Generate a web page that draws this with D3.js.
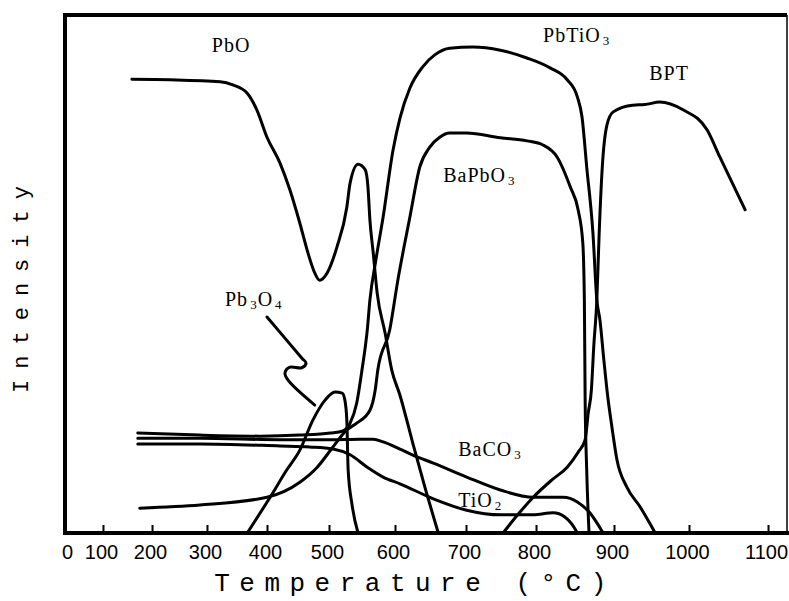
<!DOCTYPE html>
<html>
<head>
	<title>Phase intensity vs temperature</title>
	<meta charset="utf-8">
	<script src="https://cdn.jsdelivr.net/npm/d3@7"></script>
	<style>
		body { margin: 0; background: #fff; }
		.curve { fill: none; stroke: #000; stroke-width: 3; stroke-linejoin: round; stroke-linecap: round; }
		.tick text { font: 20px "Liberation Sans", Arial, sans-serif; fill: #000; }
		.tick line { stroke: #000; stroke-width: 2; }
		.label { font: 20px "Liberation Serif", serif; fill: #000; letter-spacing: 1px; }
		.title { font: 26px "Liberation Mono", monospace; fill: #000; }
	</style>
</head>
<body>
	<svg id="chart" width="789" height="601"></svg>

	<script type="text/javascript">
		// tick labels on the temperature axis (deg C)
		var tickTemps = [0, 100, 200, 300, 400, 500, 600, 700, 800, 900, 1000, 1100];
		var tickLabels = ["0", "100", "200", "300", "400", "500", "600", "700", "800", "900", "1000", "1100"];

		// each phase: [temperature, relative intensity %]
		var pbo = [[159,87.6],[233,87.5],[322,87.1],[343,86.5],[367,84.9],[383,81.7],[400,76.4],
			[421,71.4],[437,66.2],[453,59.8],[466,54.1],[477,50.2],[485,48.8],[497,50.2],[512,55.2],
			[527,62.9],[532,67.6],[544,71.2],[555,70.1],[559,66.8],[562,60.4],[567,54.1],[573,46.3],
			[585,38.6],[595,31.5],[607,26.6],[624,17.9],[642,8.9],[661,0]];

		var pbtio3 = [[171,19.3],[287,18.9],[388,18.7],[453,18.9],[502,19.3],[521,19.7],[532,21.2],
			[542,25.1],[550,31.5],[558,39.2],[562,45.0],[571,52.7],[582,61.0],[597,73.9],[607,80.1],
			[621,85.9],[639,90.0],[656,92.3],[677,93.6],[710,93.8],[749,93.2],[787,91.7],[818,89.8],
			[840,87.5],[853,84.2],[859,80.3],[865,70.7],[873,57.9],[878,45.0],[882,41.1],[887,33.4],
			[892,26.3],[897,20.8],[904,14.1],[917,8.9],[935,5.0],[955,0]];

		var bapbo3 = [[175,4.8],[287,5.4],[400,6.9],[453,9.8],[481,12.7],[506,16.6],[527,19.9],
			[542,21.2],[562,23.7],[570,27.6],[574,31.5],[592,39.2],[604,48.8],[621,61.0],[635,70.7],
			[649,74.5],[663,76.4],[677,77.2],[701,77.2],[749,76.3],[787,75.7],[809,74.9],[827,72.6],
			[844,66.8],[854,62.4],[860,56.0],[862,45.0],[863,25.7],[865,12.2],[868,0]];

		var baco3 = [[171,18.3],[287,18.3],[421,18.0],[502,18.0],[547,18.1],[567,18.1],[582,17.6],
			[607,16.2],[631,14.7],[654,13.5],[701,10.8],[749,8.3],[796,6.9],[835,6.9],[853,6.0],
			[869,3.9],[886,0]];

		var tio2 = [[171,17.2],[287,17.2],[421,16.8],[469,16.6],[506,16.2],[532,15.1],[558,12.7],
			[582,10.8],[607,9.5],[654,6.6],[701,4.4],[749,3.5],[796,3.5],[822,3.9],[837,3.1],
			[846,1.7],[853,0]];

		var pb3o4 = [[367,0],[405,6.9],[432,12.2],[453,16.0],[474,21.8],[494,25.7],[509,27.2],
			[520,27.0],[524,25.7],[527,21.8],[529,12.2],[535,5.4],[544,0]];

		var bpt = [[753,0],[775,3.7],[796,6.9],[820,10.2],[840,12.7],[854,15.6],[863,18.0],[867,23.2],
			[871,27.6],[874,35.9],[878,45.0],[881,57.9],[885,70.7],[891,78.8],[899,81.3],[925,82.6],
			[941,82.7],[961,83.2],[992,81.7],[1023,77.8],[1039,72.6],[1071,62.4]];

		// squiggly pointer from the Pb3O4 label to its peak
		var pb3o4Pointer = [[400,41.7],[456,33.8],[463,32.8],[456,31.9],[437,32.0],[429,30.9],[434,29.5],[477,24.7]];

		// phase names, split into [text, isSubscript] parts; anchored at [temperature, intensity]
		var phaseLabels = [
			{ parts: [["PbO", 0]], at: [308, 92.9] },
			{ parts: [["PbTiO", 0], ["3", 1]], at: [809, 94.8] },
			{ parts: [["BPT", 0]], at: [947, 87.5] },
			{ parts: [["BaPbO", 0], ["3", 1]], at: [668, 67.8] },
			{ parts: [["Pb", 0], ["3", 1], ["O", 0], ["4", 1]], at: [330, 43.8] },
			{ parts: [["BaCO", 0], ["3", 1]], at: [689, 14.9] },
			{ parts: [["TiO", 0], ["2", 1]], at: [689, 5.0] }
		];

		var svg = d3.select("#chart");
		var frameTop = 15, frameBottom = 533, frameRight = 787;

		// the printed axis is not evenly spaced, so the scale is piecewise linear through each tick
		var x = d3.scaleLinear()
			.domain(tickTemps)
			.range([65, 103, 152, 207, 267, 329, 395, 466, 536, 614, 689, 768]);
		var y = d3.scaleLinear().domain([0, 100]).range([frameBottom, frameTop]);

		var line = d3.line()
			.x(function(d) { return x(d[0]); })
			.y(function(d) { return y(d[1]); })
			.curve(d3.curveMonotoneX);

		[pbo, pbtio3, bapbo3, baco3, tio2, pb3o4, bpt].forEach(function(s) {
			svg.append("path").attr("class", "curve").attr("d", line(s));
		});

		svg.append("path")
			.attr("class", "curve")
			.attr("d", d3.line()
				.x(function(d) { return x(d[0]); })
				.y(function(d) { return y(d[1]); })
				.curve(d3.curveCatmullRom.alpha(0.5))(pb3o4Pointer));

		// axis with ticks pointing inwards
		var axis = svg.append("g")
			.attr("transform", "translate(0," + frameBottom + ")")
			.call(d3.axisBottom(x)
				.tickValues(tickTemps)
				.tickFormat(function(d, i) { return tickLabels[i]; })
				.tickSizeInner(-8)
				.tickSizeOuter(0)
				.tickPadding(12));
		axis.select(".domain").remove();
		axis.selectAll(".tick").filter(function(d) { return d === 0; }).select("line").remove();
		axis.selectAll(".tick text").attr("dx", function(d) { return d === 0 ? 2 : -2; });

		// frame
		var left = x(0);
		svg.append("path").attr("d", "M" + left + "," + frameTop + "H" + frameRight)
			.attr("stroke", "#000").attr("stroke-width", 4);
		svg.append("path").attr("d", "M" + left + "," + (frameTop - 2) + "V" + (frameBottom + 2))
			.attr("stroke", "#000").attr("stroke-width", 4);
		svg.append("path").attr("d", "M" + (left - 2) + "," + frameBottom + "H" + 789)
			.attr("stroke", "#000").attr("stroke-width", 4);
		svg.append("path").attr("d", "M" + frameRight + "," + frameTop + "V" + frameBottom)
			.attr("stroke", "#000").attr("stroke-width", 1.5);

		// phase labels
		phaseLabels.forEach(function(l) {
			var t = svg.append("text").attr("class", "label")
				.attr("x", x(l.at[0])).attr("y", y(l.at[1]));
			var shifted = false;
			l.parts.forEach(function(p) {
				var ts = t.append("tspan").text(p[0]);
				if (p[1]) {
					ts.attr("font-size", 13).attr("dy", shifted ? 0 : 3).attr("dx", 2);
					shifted = true;
				} else if (shifted) {
					ts.attr("dy", -3);
					shifted = false;
				}
			});
		});

		svg.append("text").attr("class", "title")
			.attr("x", 415).attr("y", 591)
			.attr("text-anchor", "middle")
			.style("letter-spacing", "9.5px")
			.text("Temperature (\u00b0C)");

		svg.append("text").attr("class", "title")
			.attr("transform", "translate(28,284) rotate(-90)")
			.attr("text-anchor", "middle")
			.style("font-size", "22px")
			.style("letter-spacing", "11px")
			.text("Intensity");
	</script>
</body>
</html>
